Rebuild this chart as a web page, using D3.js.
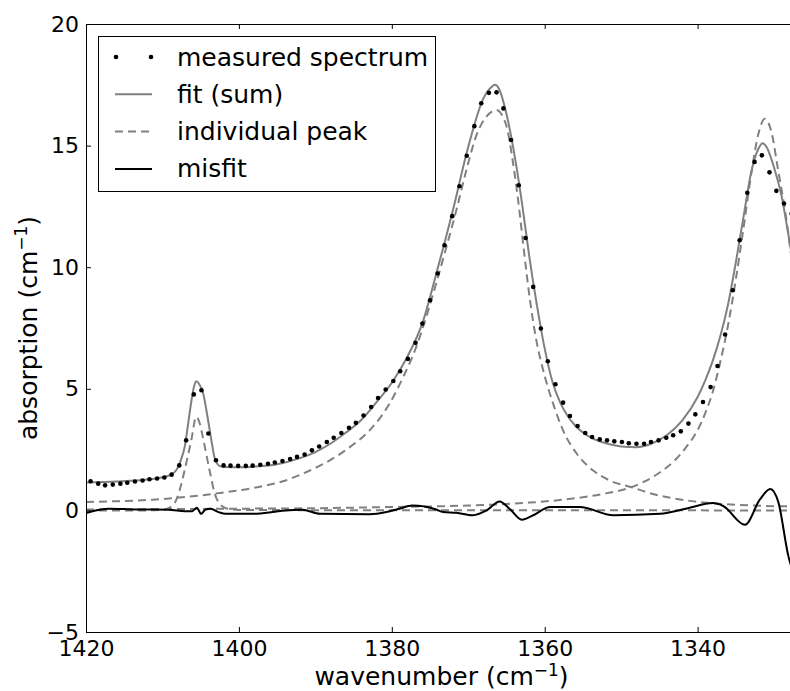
<!DOCTYPE html>
<html>
<head>
<meta charset="utf-8">
<script src="https://cdn.jsdelivr.net/npm/d3@7"></script>
<style>
body { margin: 0; background: #fff; }
svg { display: block; font-family: "DejaVu Sans", sans-serif; }
</style>
</head>
<body>
<div id="chart"></div>
<script>
// measured spectrum: wavenumber (cm-1) and absorption (cm-1)
var measuredWn = [1419.4, 1418.4, 1417.5, 1416.5, 1415.5, 1414.6, 1413.6, 1412.6, 1411.7, 1410.7,
    1409.75, 1408.8, 1407.8, 1406.9, 1405.9, 1404.9, 1404.0, 1403.0, 1402.0, 1401.1,
    1400.1, 1399.1, 1398.2, 1397.2, 1396.2, 1395.3, 1394.3, 1393.3, 1392.4, 1391.4,
    1390.45, 1389.5, 1388.5, 1387.6, 1386.6, 1385.6, 1384.7, 1383.7, 1382.7, 1381.8,
    1380.8, 1379.8, 1378.9, 1377.9, 1376.9, 1376.0, 1375.0, 1374.0, 1373.1, 1372.1,
    1371.15, 1370.2, 1369.2, 1368.3, 1367.3, 1366.3, 1365.4, 1364.4, 1363.4, 1362.5,
    1361.5, 1360.5, 1359.6, 1358.6, 1357.6, 1356.7, 1355.7, 1354.7, 1353.8, 1352.8,
    1351.85, 1350.9, 1349.9, 1349.0, 1348.0, 1347.0, 1346.1, 1345.1, 1344.1, 1343.2,
    1342.2, 1341.2, 1340.3, 1339.3, 1338.3, 1337.4, 1336.4, 1335.4, 1334.5, 1333.5,
    1332.55, 1331.6, 1330.6, 1329.7, 1328.7, 1327.7];
var measuredAbs = [1.2, 1.1, 1.03, 1.06, 1.1, 1.14, 1.19, 1.23, 1.28, 1.31,
    1.35, 1.47, 1.85, 2.88, 4.77, 4.94, 3.16, 2.06, 1.85, 1.84,
    1.83, 1.83, 1.84, 1.88, 1.92, 1.97, 2.03, 2.11, 2.2, 2.3,
    2.47, 2.63, 2.81, 2.99, 3.18, 3.4, 3.6, 3.9, 4.25, 4.62,
    4.97, 5.32, 5.72, 6.23, 6.89, 7.68, 8.64, 9.74, 10.9, 12.1,
    13.33, 14.58, 15.8, 16.74, 17.17, 17.19, 16.53, 15.23, 13.37, 11.2,
    9.19, 7.48, 6.13, 5.19, 4.43, 3.88, 3.47, 3.18, 3.02, 2.92,
    2.88, 2.84, 2.81, 2.76, 2.74, 2.74, 2.81, 2.88, 2.99, 3.09,
    3.25, 3.57, 3.95, 4.46, 5.07, 5.94, 7.23, 9.05, 11.11, 13.06,
    14.33, 14.6, 13.9, 13.14, 12.62, 12.2];

// fit (sum of peaks + baseline), [wavenumber, absorption]
var fitSum = [[1420, 1.15], [1416, 1.19], [1412, 1.27], [1410, 1.36], [1409.1, 1.44],
    [1408.2, 1.65], [1407.6, 2.06], [1407.1, 2.6], [1406.7, 3.43], [1406.2, 4.53],
    [1405.9, 5.05], [1405.6, 5.31], [1405.2, 5.2], [1404.7, 4.85], [1404.1, 3.84],
    [1403.6, 2.88], [1403.2, 2.19], [1402.75, 1.88], [1402.3, 1.8], [1401.9, 1.78],
    [1400, 1.77], [1398, 1.8], [1395, 1.9], [1392, 2.15], [1390, 2.4], [1388, 2.75],
    [1386, 3.2], [1384, 3.72], [1382, 4.45], [1380, 5.25], [1378, 6.3], [1376, 7.7],
    [1374, 9.95], [1372, 12.35], [1370, 14.95], [1368, 16.95], [1367, 17.4], [1366.5, 17.5],
    [1366, 17.35], [1365, 16.3], [1364, 14.7], [1363, 12.7], [1362, 10.4], [1361, 8.4],
    [1360, 6.65], [1359, 5.3], [1358, 4.45], [1357, 3.88], [1356, 3.48], [1355, 3.2],
    [1354, 3.0], [1352, 2.76], [1350, 2.63], [1348, 2.6], [1346, 2.75], [1344, 3.1],
    [1342, 3.7], [1340, 4.66], [1339, 5.35], [1338, 6.17], [1337, 7.2], [1336, 8.5],
    [1335, 10.2], [1334, 12.06], [1333, 13.9], [1332, 14.9], [1331.5, 15.1], [1331, 14.95],
    [1330, 14.1], [1329, 12.9], [1328, 11.1], [1327, 9.2]];

// individual peaks
var peakNarrow = [[1420, 0.0], [1412, 0.0], [1410, 0.02], [1409.07, 0.12], [1408.42, 0.29],
    [1407.76, 0.82], [1407.1, 1.65], [1406.23, 2.88], [1405.58, 3.85], [1405.1, 3.55],
    [1404.71, 3.0], [1403.84, 1.65], [1403.17, 0.7], [1402.3, 0.2], [1401.48, 0.07],
    [1400, 0.02], [1390, 0.01], [1327, 0.0]];
var peakMiddle = [[1420, 0.35], [1415.7, 0.38], [1411.3, 0.44], [1407, 0.55], [1402.6, 0.71],
    [1398.2, 0.92], [1394, 1.22], [1391, 1.6], [1388.1, 2.06], [1385.5, 2.6],
    [1382.9, 3.29], [1380.3, 4.39], [1378.5, 5.49], [1376.8, 6.72], [1375.5, 7.95],
    [1374.2, 9.33], [1372.85, 10.84], [1371.55, 12.35], [1370.2, 14.05], [1368.9, 15.45],
    [1367.6, 16.2], [1366.3, 16.46], [1365.5, 16.2], [1365, 15.8], [1364.1, 14.2],
    [1363.3, 12.3], [1362.8, 10.9], [1361.95, 8.7], [1361.1, 7.0], [1360.2, 5.76],
    [1358.9, 4.39], [1357.6, 3.29], [1355.8, 2.33], [1353.7, 1.65], [1351.5, 1.23],
    [1348.4, 0.93], [1346.25, 0.71], [1341.4, 0.41], [1337.1, 0.27], [1332.7, 0.2],
    [1327, 0.16]];
var peakRight = [[1420, 0.04], [1400, 0.07], [1390, 0.09], [1380, 0.14], [1370, 0.2],
    [1362, 0.32], [1356, 0.5], [1352, 0.7], [1349, 0.92], [1347, 1.18], [1345, 1.55],
    [1343, 2.05], [1341.5, 2.6], [1340, 3.3], [1339, 4.0], [1338, 4.9], [1337, 6.15],
    [1336, 7.65], [1335, 9.5], [1334, 11.6], [1333, 13.8], [1332, 15.55], [1331.2, 16.1],
    [1330.3, 15.5], [1329.5, 14.05], [1328.5, 12.2], [1327.5, 9.9], [1326, 7.5]];

// misfit
var misfit = [[1420, -0.11], [1418.75, 0.0], [1417.05, 0.07], [1413.5, 0.04], [1409.2, 0.03],
    [1407.0, -0.03], [1406.1, -0.03], [1405.5, 0.11], [1404.95, -0.14], [1404.35, 0.04],
    [1403.7, 0.07], [1402.65, -0.07], [1401.75, -0.14], [1398.2, -0.14], [1395.6, -0.07],
    [1393.9, 0.0], [1391.7, 0.03], [1389.4, -0.14], [1382.9, -0.16], [1380.7, -0.07],
    [1379.0, 0.07], [1377.3, 0.2], [1374.2, 0.04], [1373.3, -0.07], [1371.55, -0.1],
    [1369.4, -0.2], [1367.6, 0.0], [1365.9, 0.37], [1364.6, 0.07], [1363.0, -0.38],
    [1361.5, -0.2], [1359.3, 0.14], [1355.4, 0.14], [1351.05, -0.2], [1344.9, -0.14],
    [1341.4, 0.08], [1338.0, 0.3], [1336.65, 0.18], [1333.8, -0.59], [1331.85, 0.45],
    [1330.5, 0.88], [1329.45, 0.35], [1328.15, -1.85], [1327, -3.0]];

var xTicks = [1420, 1400, 1380, 1360, 1340];
var yTicks = [-5, 0, 5, 10, 15, 20];
var legendLabels = ["measured spectrum", "fit (sum)", "individual peak", "misfit"];

var margin = {top: 24, left: 86};
var width = 711, height = 608;

var svg = d3.select("#chart").append("svg")
    .attr("width", 790)
    .attr("height", 691);

var g = svg.append("g")
    .attr("transform", "translate(" + margin.left + "," + margin.top + ")");

var x = d3.scaleLinear().domain([1420, 1327]).range([0, width]);
var y = d3.scaleLinear().domain([-5, 20]).range([height, 0]);

g.append("clipPath").attr("id", "plot-clip")
    .append("rect")
    .attr("width", width)
    .attr("height", height);

var plot = g.append("g").attr("clip-path", "url(#plot-clip)");

var line = d3.line()
    .x(function(d) { return x(d[0]); })
    .y(function(d) { return y(d[1]); })
    .curve(d3.curveMonotoneX);

// dashed individual peaks
[peakNarrow, peakMiddle, peakRight].forEach(function(p) {
    plot.append("path")
        .datum(p)
        .attr("d", line)
        .attr("fill", "none")
        .attr("stroke", "#808080")
        .attr("stroke-width", 2)
        .attr("stroke-dasharray", "8,5");
});

plot.append("path")
    .datum(fitSum)
    .attr("d", line)
    .attr("fill", "none")
    .attr("stroke", "#808080")
    .attr("stroke-width", 2);

plot.append("path")
    .datum(misfit)
    .attr("d", line)
    .attr("fill", "none")
    .attr("stroke", "#000")
    .attr("stroke-width", 2);

plot.selectAll("circle")
    .data(measuredWn)
    .enter()
    .append("circle")
    .attr("cx", function(d) { return x(d); })
    .attr("cy", function(d, i) { return y(measuredAbs[i]); })
    .attr("r", 2.3)
    .attr("fill", "#000");

// axes, ticks pointing inward
var xAxis = d3.axisBottom(x).tickValues(xTicks).tickFormat(d3.format("d"))
    .tickSizeInner(-5).tickSizeOuter(0).tickPadding(8);
var xAxisTop = d3.axisTop(x).tickValues(xTicks).tickSizeInner(-5).tickSizeOuter(0).tickFormat("");
var yAxis = d3.axisLeft(y).tickValues(yTicks).tickSizeInner(-5).tickSizeOuter(0).tickPadding(7);

g.append("g").attr("class", "x-axis")
    .attr("transform", "translate(0," + height + ")")
    .call(xAxis);
g.append("g").attr("class", "x-axis-top").call(xAxisTop);
g.append("g").attr("class", "y-axis").call(yAxis);

g.selectAll(".domain").remove();
g.selectAll(".tick line").attr("stroke", "#000");
g.selectAll(".tick text")
    .attr("fill", "#000")
    .style("font-family", "DejaVu Sans")
    .style("font-size", "22px");

g.append("rect")
    .attr("x", 0.5).attr("y", 0.5)
    .attr("width", width).attr("height", height)
    .attr("fill", "none")
    .attr("stroke", "#000")
    .attr("stroke-width", 1);

// axis labels
var xLabel = g.append("text")
    .attr("x", width / 2)
    .attr("y", 661)
    .attr("text-anchor", "middle")
    .style("font-size", "25px");
xLabel.append("tspan").text("wavenumber (cm");
xLabel.append("tspan").attr("dy", -9).style("font-size", "17px").text("\u22121");
xLabel.append("tspan").attr("dy", 9).text(")");

var yLabel = g.append("text")
    .attr("transform", "translate(-49," + (height / 2) + ") rotate(-90)")
    .attr("text-anchor", "middle")
    .style("font-size", "25px");
yLabel.append("tspan").text("absorption (cm");
yLabel.append("tspan").attr("dy", -10).style("font-size", "17px").text("\u22121");
yLabel.append("tspan").attr("dy", 10).text(")");

// legend
var legend = svg.append("g").attr("class", "legend");
legend.append("rect")
    .attr("x", 98.5).attr("y", 36.5)
    .attr("width", 337).attr("height", 155)
    .attr("fill", "#fff")
    .attr("stroke", "#000")
    .attr("stroke-width", 1);

var rows = legend.selectAll(".row")
    .data(legendLabels)
    .enter()
    .append("g")
    .attr("class", "row")
    .attr("transform", function(d, i) { return "translate(0," + (57 + i * 37.3) + ")"; });

rows.append("text")
    .attr("x", 177)
    .attr("y", 8.5)
    .style("font-size", "25px")
    .text(function(d) { return d; });

rows.each(function(d, i) {
    var row = d3.select(this);
    if (i === 0) {
        row.selectAll("circle").data([116, 151]).enter().append("circle")
            .attr("cx", function(c) { return c; })
            .attr("cy", 0)
            .attr("r", 2.3)
            .attr("fill", "#000");
    } else {
        row.append("line")
            .attr("x1", 115).attr("x2", 152)
            .attr("y1", 0).attr("y2", 0)
            .attr("stroke", i === 3 ? "#000" : "#808080")
            .attr("stroke-width", 2)
            .attr("stroke-dasharray", i === 2 ? "8,5" : null);
    }
});
</script>
</body>
</html>
